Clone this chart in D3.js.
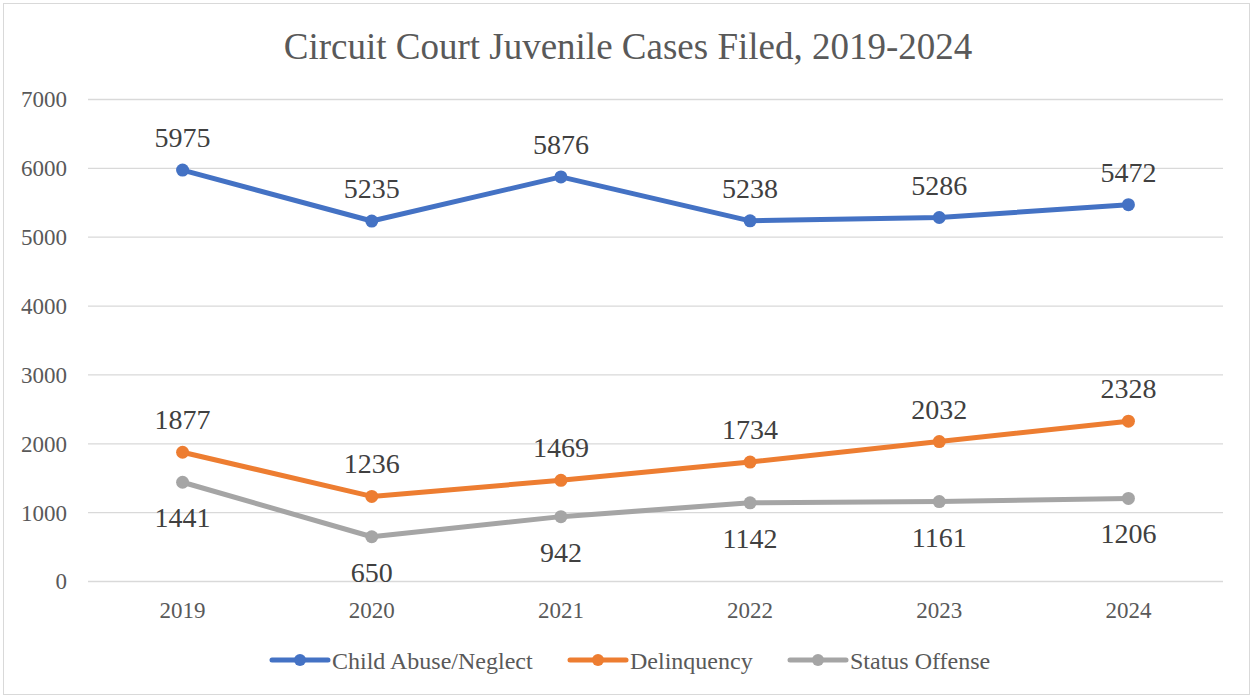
<!DOCTYPE html>
<html>
<head>
<meta charset="utf-8">
<script src="https://d3js.org/d3.v7.min.js"></script>
<style>
  body { margin:0; background:#fff; }
  svg text { font-family:"Liberation Serif", "Times New Roman", serif; }
</style>
</head>
<body>
<div id="chart"></div>
<script>
// chart data
const years = ["2019", "2020", "2021", "2022", "2023", "2024"];
const abuse = [5975, 5235, 5876, 5238, 5286, 5472];
const delinquency = [1877, 1236, 1469, 1734, 2032, 2328];
const status = [1441, 650, 942, 1142, 1161, 1206];
const yTicks = [0, 1000, 2000, 3000, 4000, 5000, 6000, 7000];

const series = [
  {name:"Child Abuse/Neglect", values:abuse, color:"#4472C4", below:false},
  {name:"Delinquency", values:delinquency, color:"#ED7D31", below:false},
  {name:"Status Offense", values:status, color:"#A5A5A5", below:true}
];

const SERIF = "'Liberation Serif', 'Times New Roman', serif";
const W = 1253, H = 698;
const plotL = 88, plotR = 1223, plotT = 99.5, plotB = 581.5;

const svg = d3.select("#chart").append("svg")
  .attr("width", W).attr("height", H);

// outer frame
svg.append("rect")
  .attr("x", 3.5).attr("y", 3.5)
  .attr("width", W-7).attr("height", H-7)
  .attr("fill", "#fff").attr("stroke", "#d9d9d9").attr("stroke-width", 1);

svg.append("text")
  .attr("x", 628).attr("y", 59)
  .attr("text-anchor", "middle")
  .style("font-family", SERIF)
  .attr("font-size", 37)
  .attr("fill", "#595959")
  .text("Circuit Court Juvenile Cases Filed, 2019-2024");

const x = d3.scaleBand().domain(years).range([plotL, plotR]);
const y = d3.scaleLinear().domain([0, 7000]).range([plotB, plotT]);

// gridlines
svg.append("g").selectAll("line")
  .data(yTicks).enter().append("line")
  .attr("x1", plotL).attr("x2", plotR)
  .attr("y1", d => y(d)).attr("y2", d => y(d))
  .attr("stroke", "#d9d9d9").attr("stroke-width", 1.3);

// y axis labels
const yAxis = svg.append("g")
  .attr("transform", "translate(" + plotL + ",0)")
  .call(d3.axisLeft(y).tickValues(yTicks).tickFormat(d3.format("d")).tickSize(0).tickPadding(21));
yAxis.select(".domain").remove();
yAxis.selectAll("text")
  .style("font-family", SERIF)
  .attr("font-size", 23)
  .attr("fill", "#595959");

// x axis labels
const xAxis = svg.append("g")
  .attr("transform", "translate(0," + plotB + ")")
  .call(d3.axisBottom(x).tickSize(0).tickPadding(20));
xAxis.select(".domain").remove();
xAxis.selectAll("text")
  .style("font-family", SERIF)
  .attr("font-size", 23)
  .attr("fill", "#595959");

const cx = (d, i) => x(years[i]) + x.bandwidth()/2;

const line = d3.line()
  .x((d, i) => cx(d, i))
  .y(d => y(d));

series.forEach(s => {
  const g = svg.append("g");
  g.append("path")
    .datum(s.values)
    .attr("d", line)
    .attr("fill", "none")
    .attr("stroke", s.color)
    .attr("stroke-width", 5)
    .attr("stroke-linejoin", "round")
    .attr("stroke-linecap", "round");
  g.selectAll("circle")
    .data(s.values).enter().append("circle")
    .attr("cx", cx)
    .attr("cy", d => y(d))
    .attr("r", 6.5)
    .attr("fill", s.color);
  g.selectAll("text")
    .data(s.values).enter().append("text")
    .attr("x", cx)
    .attr("y", d => s.below ? y(d) + 45 : y(d) - 23)
    .attr("text-anchor", "middle")
    .style("font-family", SERIF)
    .attr("font-size", 28)
    .attr("fill", "#404040")
    .text(d => d);
});

// legend
const legendX = [272, 570, 790];
const legend = svg.append("g").attr("transform", "translate(0,660)");
series.forEach((s, i) => {
  const lg = legend.append("g").attr("transform", "translate(" + legendX[i] + ",0)");
  lg.append("line")
    .attr("x1", 0).attr("x2", 56)
    .attr("stroke", s.color).attr("stroke-width", 5)
    .attr("stroke-linecap", "round");
  lg.append("circle").attr("cx", 28).attr("r", 6).attr("fill", s.color);
  lg.append("text")
    .attr("x", 60).attr("y", 9)
    .style("font-family", SERIF)
    .attr("font-size", 24)
    .attr("fill", "#595959")
    .text(s.name);
});
</script>
</body>
</html>
